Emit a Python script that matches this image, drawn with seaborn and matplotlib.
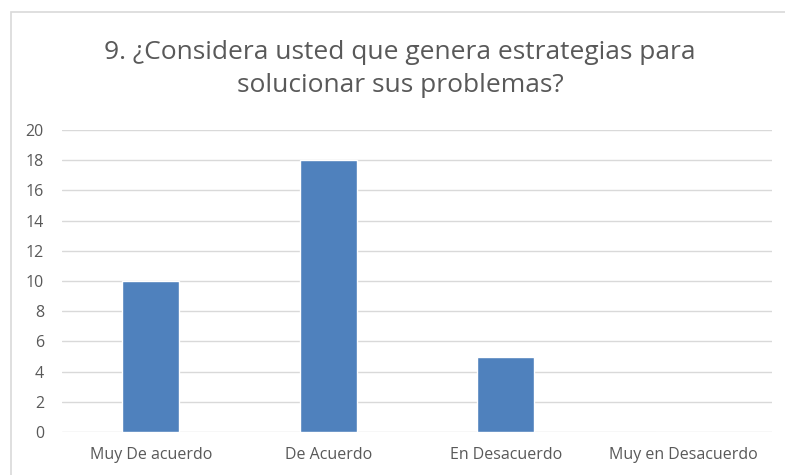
import matplotlib
matplotlib.use("Agg")
import matplotlib.pyplot as plt
import seaborn as sns
import pandas as pd
from matplotlib.patches import Rectangle

# chart data
categories = ["Muy De acuerdo", "De Acuerdo", "En Desacuerdo", "Muy en Desacuerdo"]
values = [10, 18, 5, 0]
y_ticks = [0, 2, 4, 6, 8, 10, 12, 14, 16, 18, 20]

df = pd.DataFrame({"respuesta": categories, "cantidad": values})

sns.set_style("white")
plt.rcParams['font.family'] = ['Open Sans', 'DejaVu Sans']

fig = plt.figure(figsize=(7.85, 4.75), dpi=100)
ax = fig.add_axes([62/785, 1 - 432/475, 710/785, 302/475])

sns.barplot(data=df, x="respuesta", y="cantidad", color="#4F81BD", saturation=1,
            width=0.32, ax=ax, zorder=3)

ax.set_ylim(0, 20)
ax.set_xlim(-0.5, 3.5)
ax.set_yticks(y_ticks)
ax.yaxis.grid(True, color="#D9D9D9", linewidth=1, zorder=0)
ax.set_axisbelow(True)
for s in ax.spines.values():
    s.set_visible(False)
ax.tick_params(axis="both", length=0, labelsize=11.5, labelcolor="#595959")
ax.tick_params(axis="y", pad=13)
ax.tick_params(axis="x", pad=11)
ax.set_xlabel("")
ax.set_ylabel("")

fig.text(400/785, 1 - 69/475, "9. ¿Considera usted que genera estrategias para\nsolucionar sus problemas?",
         ha="center", va="center", fontsize=19, color="#595959", linespacing=1.45)

# light chart border
fig.patches.append(Rectangle((11/785, -0.1), 1.2, 1 - 12/475 + 0.1, transform=fig.transFigure,
                             fill=False, edgecolor="#D9D9D9", linewidth=1.2))

fig.savefig("out.png", dpi=100)
